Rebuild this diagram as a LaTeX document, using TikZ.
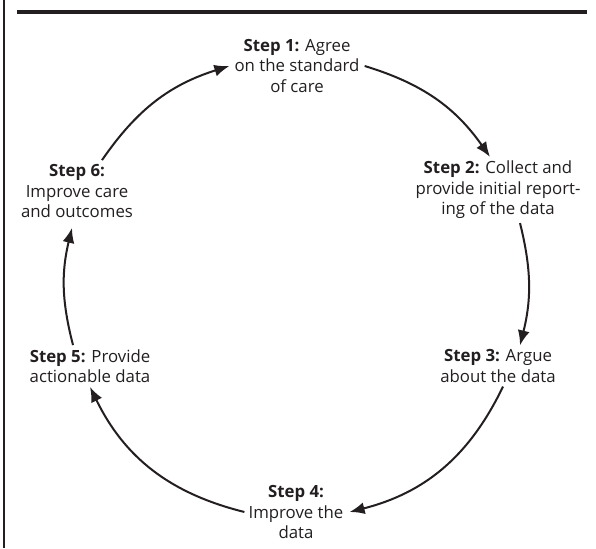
\documentclass[tikz,border=0pt]{standalone}
\usepackage{fontspec}
\setmainfont{Open Sans}
\usepackage{tikz}
\usetikzlibrary{arrows.meta}
\definecolor{ink}{HTML}{231F20}

\begin{document}
\begin{tikzpicture}[x=1pt, y=-1pt,
            stepbox/.style={align=center, inner sep=0pt, text=ink,
                font=\fontsize{16.8}{20.5}\selectfont},
            cycarrow/.style={-{Latex[length=15pt, width=12pt]}, line width=2pt, draw=ink},
        ]
            \useasboundingbox (0, 0) rectangle (596, 548);
            % frame
            \draw[ink, line width=1.5pt] (4, 0) -- (4, 548);
            \draw[ink, line width=4pt] (17, 12) -- (587, 12);
            % steps
            \node[stepbox] (agree) at (297, 66) {\textbf{Step 1:} Agree\\on the standard\\of care};
            \node[stepbox] (collect) at (498, 190) {\textbf{Step 2:} Collect and\\provide initial report-\\ing of the data};
            \node[stepbox] (argue) at (498, 366) {\textbf{Step 3:} Argue\\about the data};
            \node[stepbox] (improve) at (296, 512) {\textbf{Step 4:}\\Improve the\\data};
            \node[stepbox] (provide) at (90, 366) {\textbf{Step 5:} Provide\\actionable data};
            \node[stepbox] (outcomes) at (77, 191) {\textbf{Step 6:}\\Improve care\\and outcomes};
            % cycle
            \draw[cycarrow] ([xshift=5pt]agree.east) to[bend left=19] ([xshift=-8pt, yshift=4pt]collect.north);
            \draw[cycarrow] ([xshift=22pt, yshift=-4pt]collect.south) to[bend left=14] ([xshift=22pt, yshift=4pt]argue.north);
            \draw[cycarrow] ([xshift=5pt, yshift=-4pt]argue.south) to[bend left=25] ([xshift=6pt]improve.east);
            \draw[cycarrow] ([xshift=-4pt]improve.west) to[bend left=25] ([yshift=-4pt]provide.south);
            \draw[cycarrow] ([xshift=-17pt, yshift=4pt]provide.north) to[bend left=14] ([xshift=-5pt, yshift=-10pt]outcomes.south);
            \draw[cycarrow] ([xshift=25pt, yshift=4pt]outcomes.north) to[bend left=19] ([xshift=-5pt]agree.west);
        \end{tikzpicture}
\end{document}
